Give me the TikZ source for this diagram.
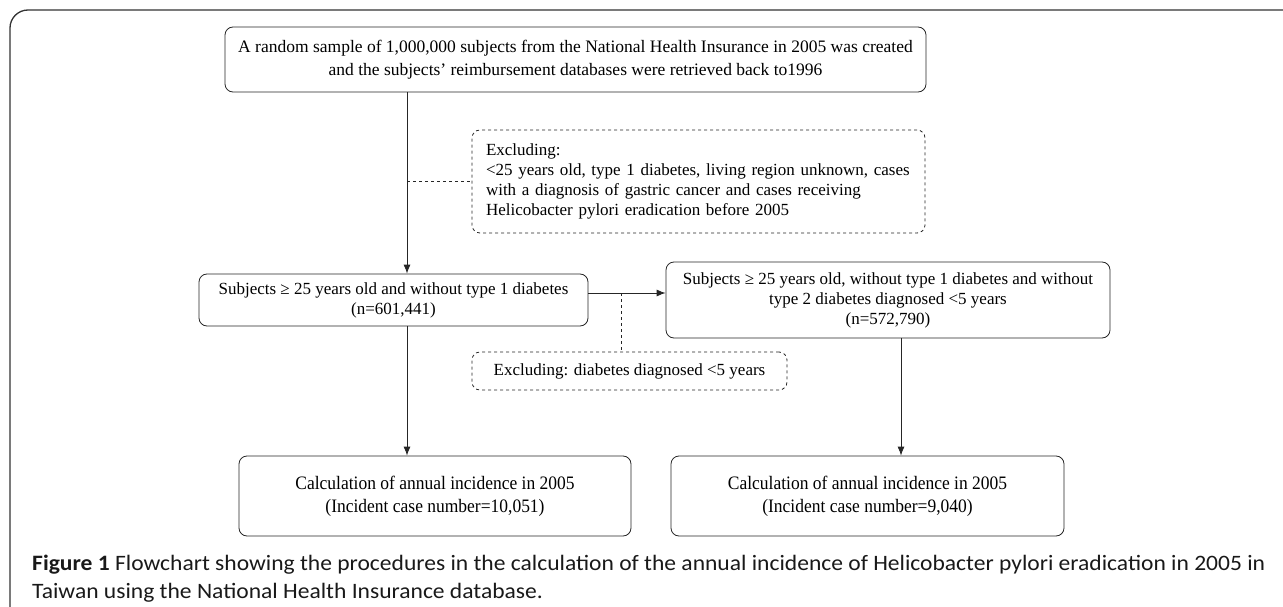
\documentclass[tikz,border=0pt]{standalone}
\usepackage{fontspec}
\setmainfont{Liberation Serif}
\newfontfamily\narrowserif[FakeStretch=0.92]{Liberation Serif}
\newfontfamily\capfont[FakeStretch=1.07]{Carlito}
\usetikzlibrary{positioning,arrows.meta,calc}

\begin{document}
\begin{tikzpicture}[x=1pt,y=-1pt,
  flowbox/.style={draw=black!85, line width=0.8pt, rounded corners=8pt, align=center,
    inner sep=0pt, font=\fontsize{17}{20}\selectfont},
  exclbox/.style={flowbox, dashed, align=left},
  flowarrow/.style={draw=black!85, line width=0.8pt, -{Latex[length=9pt,width=7pt]}},
  ]
  \useasboundingbox (0,0) rectangle (1283,607);
  \def\trunkx{407};   % main vertical line
  \def\branchx{901};  % right vertical line

  % outer frame (only top and left edges visible)
  \draw[black!80, line width=1.3pt, rounded corners=18pt] (10,607) -- (10,10) -- (1283,10);

  \node[flowbox, minimum width=701, minimum height=65, font=\fontsize{17.5}{23}\selectfont] (sample) at (575.5,59.5)
    {A random sample of 1,000,000 subjects from the National Health Insurance in 2005 was created\\
     and the subjects’ reimbursement databases were retrieved back to1996};

  \node[exclbox, text width=425, minimum height=103, inner xsep=14pt] (exclA) at (698.5,181.5)
    {Excluding:\\
     <25 years old, type 1 diabetes, living region unknown, cases\\
     with a diagnosis of gastric cancer and cases receiving\\
     Helicobacter pylori eradication before 2005};

  \node[flowbox, minimum width=389, minimum height=52] (adults) at (393.5,300)
    {Subjects ≥ 25 years old and without type 1 diabetes\\(n=601,441)};

  \node[flowbox, minimum width=444, minimum height=76] (cohort) at (888,300)
    {Subjects ≥ 25 years old, without type 1 diabetes and without\\
     type 2 diabetes diagnosed <5 years\\(n=572,790)};

  \node[exclbox, minimum width=315, minimum height=38, inner xsep=14pt] (exclB) at (629.5,371)
    {Excluding: diabetes diagnosed <5 years};

  \node[flowbox, minimum width=392, minimum height=80, font=\narrowserif\fontsize{19}{23}\selectfont] (incA) at (435,496)
    {Calculation of annual incidence in 2005\\(Incident case number=10,051)};

  \node[flowbox, minimum width=393, minimum height=80, font=\narrowserif\fontsize{19}{23}\selectfont] (incB) at (867.5,496)
    {Calculation of annual incidence in 2005\\(Incident case number=9,040)};

  \coordinate (trunk) at (\trunkx,0);
  \coordinate (branch) at (\branchx,0);
  \coordinate (split) at (621,293);

  \draw[flowarrow] (sample.south -| trunk) -- (adults.north -| trunk);
  \draw[black!85, line width=0.8pt, dashed] (exclA.west -| trunk) -- (exclA.west);
  \draw[flowarrow] (adults.east |- split) -- (cohort.west |- split);
  \draw[black!85, line width=0.8pt, dashed] (split) -- (exclB.north -| split);
  \draw[flowarrow] (adults.south -| trunk) -- (incA.north -| trunk);
  \draw[flowarrow] (cohort.south -| branch) -- (incB.north -| branch);

  \node[anchor=north west, align=left, text=black!90, inner sep=0pt,
    font=\capfont\fontsize{22}{28}\selectfont] (caption) at (32,555)
    {\textbf{Figure 1} Flowchart showing the procedures in the calculation of the annual incidence of Helicobacter pylori eradication in 2005 in\\
     Taiwan using the National Health Insurance database.};
\end{tikzpicture}
\end{document}
